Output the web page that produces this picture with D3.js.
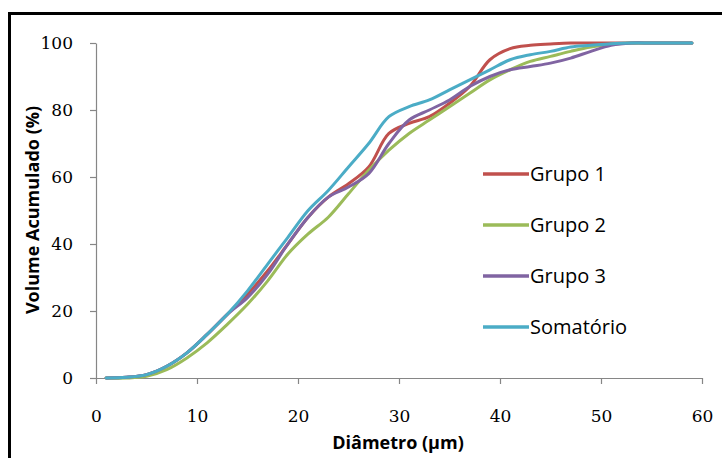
<!DOCTYPE html>
<html>
<head>
<meta charset="utf-8">
<script src="https://cdn.jsdelivr.net/npm/d3@7"></script>
<style>
  body { margin: 0; background: #fff; }
  svg { display: block; }
</style>
</head>
<body>
<div id="chart"></div>
<script>
// --- Data ---
const diametro = [1, 3, 5, 7, 9, 11, 13, 15, 17, 19, 21, 23, 25, 27, 29, 31, 33, 35, 37, 39, 41, 43, 45, 47, 49, 51, 53, 55, 57, 59];
const grupo1 = [0, 0.2, 1, 3.5, 7.5, 13, 19, 25, 32, 40, 48, 54, 58, 63, 73, 76, 78, 82, 87, 95, 98.3, 99.3, 99.7, 100, 100, 100, 100, 100, 100, 100];
const grupo2 = [0, 0, 0.5, 2.5, 6, 10.5, 16, 22, 29, 37, 43, 48, 55, 62, 68, 73, 77, 81, 85, 89, 92, 94.5, 96, 97.5, 98.8, 99.6, 100, 100, 100, 100];
const grupo3 = [0, 0.2, 1, 3.5, 7.5, 13, 19, 24, 31, 40, 48, 54, 57, 61, 70, 77, 80, 83, 87, 90, 92, 93, 94, 95.5, 97.5, 99.3, 100, 100, 100, 100];
const somatorio = [0, 0.2, 1, 3.5, 7.5, 13, 19, 26, 34, 42, 50, 56, 63, 70, 78, 81, 83, 86, 89, 92, 95, 96.5, 97.5, 98.8, 99.3, 99.8, 100, 100, 100, 100];

const seriesNames = ["Grupo 1", "Grupo 2", "Grupo 3", "Somatório"];
const seriesColors = ["#c0504d", "#9bbb59", "#8064a2", "#4bacc6"];
const xTicks = [0, 10, 20, 30, 40, 50, 60];
const yTicks = [0, 20, 40, 60, 80, 100];

const width = 722, height = 458;
const plot = { left: 96, right: 702, top: 43, bottom: 378 };

const svg = d3.select("#chart").append("svg")
    .attr("width", width)
    .attr("height", height);

// outer frame (right/bottom edges run off the picture)
svg.append("rect")
    .attr("x", 9.5).attr("y", 13.5)
    .attr("width", 720).attr("height", 460)
    .attr("fill", "#fff")
    .attr("stroke", "#000")
    .attr("stroke-width", 3);

const x = d3.scaleLinear().domain([0, 60]).range([plot.left, plot.right]);
const y = d3.scaleLinear().domain([0, 100]).range([plot.bottom, plot.top]);

// --- Axes ---
const xAxis = svg.append("g")
    .attr("transform", `translate(0,${plot.bottom})`)
    .call(d3.axisBottom(x).tickValues(xTicks).tickSize(6).tickSizeOuter(0).tickPadding(26));

const yAxis = svg.append("g")
    .attr("transform", `translate(${plot.left},0)`)
    .call(d3.axisLeft(y).tickValues(yTicks).tickSize(6).tickSizeOuter(0).tickPadding(17));

[xAxis, yAxis].forEach(ax => {
    ax.select(".domain").attr("stroke", "#868686").attr("stroke-width", 1.2);
    ax.selectAll(".tick line").attr("stroke", "#868686").attr("stroke-width", 1.2);
    ax.selectAll(".tick text")
        .attr("fill", "#000")
        .style("font-family", "'DejaVu Serif', serif")
        .style("font-size", "17px");
});

// --- Lines ---
const allSeries = [grupo1, grupo2, grupo3, somatorio];
const line = d3.line()
    .x((d, i) => x(diametro[i]))
    .y(d => y(d))
    .curve(d3.curveCatmullRom.alpha(0.5));

svg.append("g")
    .selectAll("path")
    .data(allSeries)
    .join("path")
    .attr("d", d => line(d))
    .attr("fill", "none")
    .attr("stroke", (d, i) => seriesColors[i])
    .attr("stroke-width", 3)
    .attr("stroke-linejoin", "round")
    .attr("stroke-linecap", "round");

// --- Legend ---
const legend = svg.append("g")
    .selectAll("g")
    .data(seriesNames)
    .join("g")
    .attr("transform", (d, i) => `translate(483,${174 + i * 51})`);

legend.append("line")
    .attr("x1", 0).attr("x2", 46)
    .attr("stroke", (d, i) => seriesColors[i])
    .attr("stroke-width", 3.5);

legend.append("text")
    .attr("x", 47).attr("dy", "0.35em")
    .style("font-family", "'Open Sans', sans-serif")
    .style("font-size", "20px")
    .text(d => d);

// --- Axis titles ---
svg.append("text")
    .attr("x", 398).attr("y", 449)
    .attr("text-anchor", "middle")
    .style("font-family", "'Open Sans', sans-serif")
    .style("font-weight", "bold")
    .style("font-size", "18px")
    .text("Diâmetro (µm)");

svg.append("text")
    .attr("transform", "translate(39,210) rotate(-90)")
    .attr("text-anchor", "middle")
    .style("font-family", "'Open Sans', sans-serif")
    .style("font-weight", "bold")
    .style("font-size", "18px")
    .text("Volume Acumulado (%)");
</script>
</body>
</html>
